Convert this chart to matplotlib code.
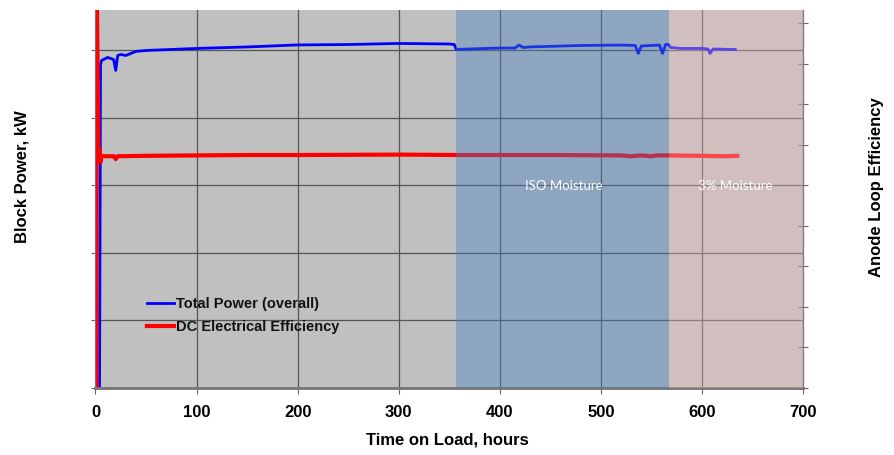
import matplotlib.pyplot as plt

# hours on load
power_hours = [4, 5, 6, 12, 15, 18, 20, 22, 25, 30, 40, 50, 100, 150, 200, 250, 300, 350, 355,
               357, 400, 415, 419, 423, 430, 480, 520, 534, 537, 540, 558, 561, 564, 567,
               569, 580, 600, 606, 608, 611, 633]
# block power, kW (left axis)
power_kw = [0, 239.6, 242.6, 244.8, 244.1, 243.3, 235.2, 246.3, 247.0, 246.3, 249.3, 250.0,
            251.5, 252.6, 254.1, 254.4, 255.2, 254.8, 254.4,
            250.8, 251.8, 251.8, 254.0, 252.2, 252.6, 253.7, 254.0, 253.7, 247.8, 253.3,
            254.0, 247.8, 254.4, 254.4,
            252.2, 251.5, 251.5, 251.1, 247.8, 251.1, 250.7]

eff_hours = [1, 1.2, 3, 4, 5, 6, 10, 18, 20, 22, 50, 100, 150, 200, 300, 357, 450, 520,
             530, 540, 550, 555, 567, 600, 620, 635]
# DC electrical efficiency, % (right axis)
eff_pct = [0, 100, 57.0, 58.8, 55.8, 57.3, 57.2, 57.2, 56.5, 57.2, 57.3, 57.4, 57.5, 57.5,
           57.6, 57.5, 57.5, 57.4, 57.2, 57.4, 57.2, 57.4, 57.4, 57.3, 57.2, 57.3]

# test phases
phase_names = ["ISO Moisture", "3% Moisture"]
phase_start = [357, 567]
phase_end = [567, 700]
phase_label_x = [463, 633]
phase_colors = ["#467fc0", "#edbbbb"]
phase_alpha = [0.4, 0.38]

plt.rcParams["font.family"] = ["Liberation Sans", "DejaVu Sans"]

fig = plt.figure(figsize=(8.95, 4.55), dpi=100)
ax = fig.add_axes([0.1067, 0.1473, 0.7905, 0.8308])
ax2 = ax.twinx()

ax.set_facecolor("#c0c0c0")
ax.set_xlim(0, 700)
ax.set_ylim(0, 280)
ax.set_yticks(range(0, 251, 50))
ax.set_xticks(range(0, 701, 100))
ax.grid(True, color="#555555", linewidth=0.9)
ax.set_yticklabels([])
ax.tick_params(axis="y", direction="out", length=3, color="#666666")
ax.tick_params(axis="x", direction="out", length=4, color="#666666", pad=8,
               labelsize=12)
for lab in ax.get_xticklabels():
    lab.set_fontweight("bold")

l1, = ax.plot(power_hours, power_kw, color="#0000ff", linewidth=2,
              label="Total Power (overall)")

ax2.set_ylim(0, 93.3)
ax2.set_yticks(range(0, 91, 10))
ax2.set_yticklabels([])
ax2.tick_params(axis="y", direction="inout", length=7, color="#666666")
l2, = ax2.plot(eff_hours, eff_pct, color="#ff0000", linewidth=3,
               label="DC Electrical Efficiency", zorder=2)

for name, x0, x1, xt, c, a in zip(phase_names, phase_start, phase_end, phase_label_x,
                                   phase_colors, phase_alpha):
    ax2.axvspan(x0, x1, color=c, alpha=a, linewidth=0, zorder=3)
    ax2.text(xt, 49.9, name, color="white", fontsize=9.5, family="Lato",
             ha="center", va="center", zorder=5)

for a in (ax, ax2):
    a.spines["top"].set_visible(False)
    for s in ("left", "right", "bottom"):
        a.spines[s].set_color("#777777")
ax.spines["bottom"].set_linewidth(1.8)
ax2.spines["bottom"].set_linewidth(1.8)

leg = ax2.legend([l1, l2], [l1.get_label(), l2.get_label()], loc="upper left",
                 bbox_to_anchor=(0.054, 0.276), frameon=False, handlelength=1.85,
                 handletextpad=0.15, labelspacing=0.62,
                 prop={"weight": "bold", "size": 10.5})
leg.set_zorder(6)
for t in leg.get_texts():
    t.set_color("#111111")

fig.text(0.5, 1 - 440 / 455, "Time on Load, hours", ha="center", va="center",
         fontsize=12, fontweight="bold")
fig.text(22 / 895, 1 - 177 / 455, "Block Power, kW", ha="center", va="center",
         rotation=90, fontsize=12, fontweight="bold")
fig.text(877 / 895, 1 - 187 / 455, "Anode Loop Efficiency", ha="center", va="center",
         rotation=90, fontsize=12, fontweight="bold")

fig.savefig("out.png", dpi=100)
